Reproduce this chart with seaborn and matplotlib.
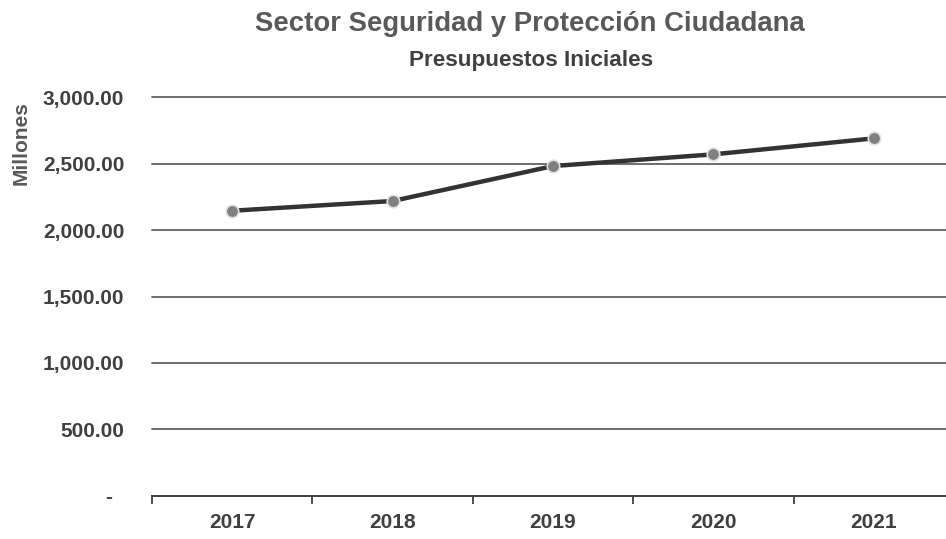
import matplotlib
matplotlib.use("Agg")
import matplotlib.pyplot as plt
from matplotlib import font_manager
from matplotlib.ticker import FuncFormatter, FixedLocator
import pandas as pd
import seaborn as sns

# Datos (millones)
anios = ["2017", "2018", "2019", "2020", "2021"]
presupuesto = [2145, 2218, 2481, 2569, 2689]

titulo = "Sector Seguridad y Protección Ciudadana"
subtitulo = "Presupuestos Iniciales"
etiqueta_y = "Millones"

df = pd.DataFrame({"anio": anios, "monto": presupuesto})

sns.set_theme(style="white")
nombres = {f.name for f in font_manager.fontManager.ttflist}
fuente = "Liberation Sans Narrow" if "Liberation Sans Narrow" in nombres else "Liberation Sans"
plt.rcParams["font.family"] = [fuente, "DejaVu Sans"]

texto = "#404040"

fig = plt.figure(figsize=(9.46, 5.39), dpi=100)
ax = fig.add_axes([0.1607, 0.0798, 0.8393, 0.7402])

sns.lineplot(data=df, x="anio", y="monto", ax=ax, color="#333333", linewidth=3.2,
             marker="o", markersize=9, markerfacecolor="#808080",
             markeredgecolor="#e0e0e0", markeredgewidth=1.2, zorder=5)

ax.set_xlim(-0.5, 4.45)
ax.set_ylim(0, 3000)

# rejilla horizontal
for v in range(500, 3001, 500):
    ax.axhline(v, color="#6e6e6e", linewidth=1.4, zorder=1, clip_on=False)

# formato contable: el cero se muestra como guion
ax.yaxis.set_major_locator(FixedLocator(range(0, 3001, 500)))
ax.yaxis.set_major_formatter(FuncFormatter(lambda v, p: "-  " if v == 0 else f"{v:,.2f}"))

for s in ["top", "right", "left"]:
    ax.spines[s].set_visible(False)
ax.spines["bottom"].set_color("#404040")
ax.spines["bottom"].set_linewidth(1.4)

ax.set_xticks([-0.5, 0.5, 1.5, 2.5, 3.5], minor=True)
ax.tick_params(axis="x", which="major", bottom=True, length=0, pad=12)
ax.tick_params(axis="x", which="minor", bottom=True, length=6, width=1.3,
               color="#404040", direction="out")
ax.tick_params(axis="y", length=0, pad=20)

for lab in ax.get_xticklabels() + ax.get_yticklabels():
    lab.set_fontsize(15)
    lab.set_fontweight("bold")
    lab.set_color(texto)

ax.set_xlabel("")
ax.set_ylabel("")
fig.text(0.022, 0.735, etiqueta_y, rotation=90, ha="center", va="center",
         fontsize=15, fontweight="bold", color="#595959")

fig.text(0.56, 0.955, titulo, ha="center", va="center",
         fontsize=19.8, fontweight="bold", color="#595959")
fig.text(0.5615, 0.888, subtitulo, ha="center", va="center",
         fontsize=16.2, fontweight="bold", color=texto)

fig.savefig("out.png", dpi=100)
